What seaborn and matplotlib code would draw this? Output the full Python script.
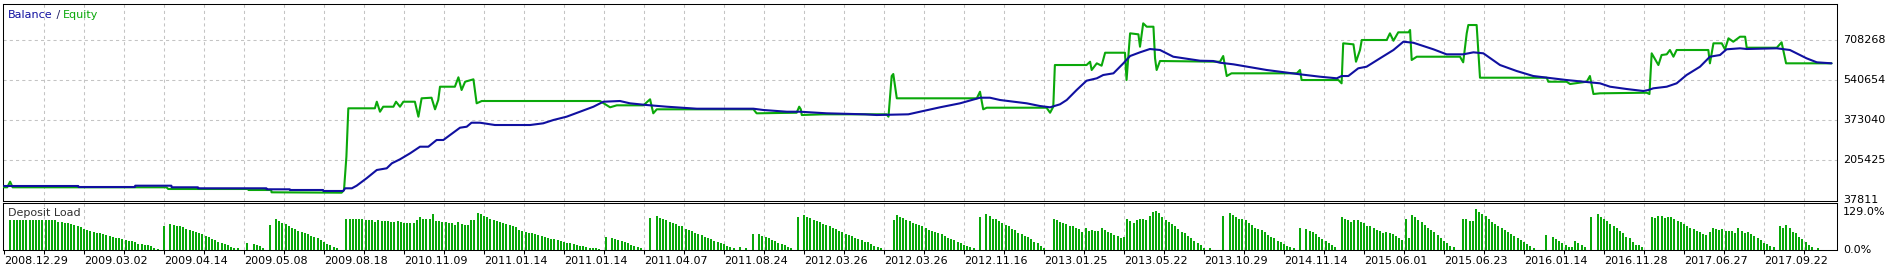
import numpy as np
import matplotlib
matplotlib.use("Agg")
import matplotlib.pyplot as plt
import seaborn as sns
from matplotlib.transforms import Bbox, TransformedBbox, blended_transform_factory

# ---------------- data (x = deal slot index) ----------------
balance_x = [0, 23.2, 23.3, 40.9, 41.0, 52.3, 52.4, 60.6, 60.7, 82.0, 82.1, 89.3, 89.4, 99.7, 99.8,
             106.0, 106.6, 108.7, 110.2, 113.3, 116.5, 119.6, 121.2, 123.75, 126.9, 130.0, 132.6,
             135.2, 137.3, 139.4, 142.5, 144.6, 146.1, 148.75, 153.4, 164.4, 168.5, 171.7, 175.8,
             180.0, 184.2, 187.3, 192.5, 195.6, 200.8, 207.1, 216.5, 234.2, 237.3, 244.6, 248.75,
             257.1, 269.1, 272.7, 282.6, 286.25, 292.5, 298.75, 305.0, 308.1, 311.25, 319.6, 323.75,
             326.9, 330.0, 332.1, 335.2, 338.3, 341.5, 343.5, 346.7, 349.8, 351.9, 355.0, 358.1,
             361.25, 365.4, 373.75, 377.9, 380.0, 384.2, 394.6, 405.0, 411.25, 416.5, 418.0, 420.1,
             423.2, 425.8, 430.0, 434.2, 437.3, 440.4, 446.7, 450.8, 456.0, 459.2, 462.3, 467.5,
             472.7, 477.9, 488.3, 498.75, 501.9, 507.1, 512.3, 513.9, 515.4, 519.6, 522.7, 525.8,
             530.0, 533.1, 536.25, 538.3, 542.5, 544.6, 554.0, 558.1, 563.3, 566.5, 571.1]
balance_y = [97700, 97700, 93500, 93500, 99000, 99000, 92300, 92300, 88100, 88100, 83900, 83900, 81000,
             81000, 76800, 76800, 88100, 88100, 99000, 130000, 164800, 171900, 192800, 209600, 234700,
             262400, 262400, 290500, 290500, 311400, 342000, 346200, 362900, 362900, 353300, 353300,
             360400, 374300, 388100, 409000, 430000, 450900, 453900, 444200, 437100, 430000, 421600,
             421600, 416200, 409000, 409000, 402300, 398100, 395200, 398100, 409000, 427500, 444200,
             467700, 467700, 458100, 444200, 432900, 427500, 440000, 458100, 500000, 538900, 549000,
             562800, 569900, 611800, 642400, 657900, 671800, 667600, 639500, 622700, 621500, 614300,
             607600, 583800, 565700, 555700, 549000, 558600, 558600, 590900, 597600, 632800, 667600,
             702300, 698100, 670500, 649500, 649500, 657900, 653700, 604700, 579600, 558600, 541800,
             528000, 513800, 504100, 495800, 500000, 507100, 513800, 528000, 562800, 597600, 639500,
             646600, 670500, 674700, 671800, 674700, 667600, 632800, 616000, 611800]

equity_x = [0, 1.0, 1.9, 2.7, 50.8, 51.3, 76.3, 76.4, 83.5, 83.6, 105.5, 106.25, 107.0, 107.6, 115.9,
            116.5, 117.5, 118.5, 121.7, 122.5, 123.75, 124.8, 128.4, 129.5, 130.5, 133.6, 134.7,
            135.7, 136.25, 140.9, 142.0, 143.0, 144.1, 146.7, 147.7, 149.3, 186.25, 189.4, 191.5,
            199.8, 201.9, 202.9, 204.0, 234.2, 235.2, 247.7, 248.5, 249.0, 249.3, 256.0, 275.8,
            276.4, 277.4, 277.9, 279.0, 304.0, 305.0, 306.0, 307.1, 325.8, 326.9, 327.9, 328.4,
            338.3, 339.4, 339.9, 341.5, 343.0, 344.1, 350.3, 350.8, 351.9, 354.5, 355.0, 356.0,
            357.1, 359.2, 359.7, 360.2, 361.25, 380.0, 381.0, 382.1, 383.6, 404.0, 405.0, 405.5,
            417.0, 418.0, 418.5, 421.7, 422.5, 423.75, 424.3, 432.1, 433.1, 434.2, 435.7, 438.9,
            439.4, 439.9, 441.5, 455.0, 456.0, 457.1, 457.6, 460.2, 461.25, 482.1, 482.6, 488.3,
            489.4, 494.6, 495.6, 496.7, 498.75, 513.3, 514.2, 514.9, 517.0, 518.0, 519.6, 520.6,
            521.7, 522.7, 532.6, 533.1, 534.2, 536.8, 537.8, 538.9, 540.4, 542.5, 544.1, 544.6,
            554.0, 555.5, 556.9, 571.1]
equity_y = [92300, 92300, 115800, 92300, 92300, 85200, 85200, 81000, 81000, 71300, 69700, 81000, 220500,
            423300, 423300, 450900, 409000, 430000, 430000, 450900, 430000, 450900, 450900, 388100,
            465200, 467700, 419100, 458100, 513800, 513800, 553200, 500000, 534700, 544800, 444200,
            453900, 453900, 427500, 435800, 435800, 461000, 402300, 419100, 419100, 402300, 404800,
            430000, 419100, 395200, 398100, 398100, 388100, 558600, 567000, 465200, 465200, 492800,
            419100, 425800, 425800, 404800, 430000, 604700, 604700, 618500, 583800, 611800, 601800,
            656200, 656200, 541800, 737500, 733300, 681400, 779400, 765200, 765200, 632800, 583800,
            621500, 618500, 642400, 558600, 569900, 569900, 583800, 541800, 541800, 528000, 695600,
            691400, 618500, 667600, 709500, 709500, 737500, 706500, 741700, 741700, 751400, 625700,
            639500, 639500, 616000, 737500, 772300, 772300, 551500, 551500, 534700, 534700, 525100,
            534700, 558600, 483200, 486100, 488600, 483200, 653700, 604700, 646600, 649500, 667600,
            639500, 667600, 667600, 611800, 695600, 695600, 670500, 716600, 702300, 723300, 723300,
            677200, 677200, 699800, 611800, 611800]

deposit_load = [
    0, 0, 95, 95, 95, 95, 95, 95, 95, 95, 95, 95, 95, 95, 95, 95, 95,
    89, 87, 85, 84, 82, 79, 75, 71, 67, 63, 60, 57, 55, 53, 50, 46, 43, 40, 39, 37, 34, 31, 28, 27,
    24, 20, 18, 17, 15, 12, 7, 3,
    0, 74, 0,
    82, 80, 77, 74, 71, 67, 64, 61, 57, 53, 49, 44, 40, 35, 30, 26, 22, 18, 15, 11, 7, 6,
    0, 0, 23, 0, 20, 17, 13, 6, 0, 79, 0, 97,
    91, 86, 82, 74, 68, 65, 60, 56, 52, 50, 44, 42, 37, 30, 24, 19, 16, 9, 6,
    0, 0,
    97, 99, 99, 97, 97, 97, 95, 95, 95, 89, 95, 92, 91, 91, 89, 89, 91, 89, 86, 86,
    86, 84, 96, 103, 99, 99, 99, 113, 91, 91, 89, 89, 84, 84, 79, 87, 82, 79, 79, 96,
    95, 116, 112, 107, 103, 99, 96, 91, 89, 84, 82, 79, 75, 72, 62, 61, 58, 54, 52, 50,
    47, 44, 40, 37, 35, 35, 31, 28, 26, 23, 21, 18, 17, 14, 13, 9, 7, 6, 6, 2,
    0, 42, 0,
    37, 35, 31, 28, 26, 21, 17, 14, 9, 6,
    0, 0, 102, 0,
    107, 101, 97, 95, 89, 86, 82, 76, 74, 66, 62, 60, 54, 51, 47, 42, 39, 35, 29, 26, 23, 19, 13, 9, 7,
    0, 9, 0, 6, 0, 51, 0, 51,
    44, 42, 39, 31, 28, 23, 20, 17, 10, 7,
    0, 104, 0, 110,
    104, 102, 95, 91, 89, 82, 79, 74, 70, 66, 60, 58, 51, 47, 44, 39, 35, 31, 26, 24, 18, 14, 10, 7,
    0, 0, 0, 95, 110,
    105, 102, 96, 91, 84, 82, 79, 74, 70, 62, 60, 58, 52, 50, 45, 39, 35, 31, 26,
    21, 17, 13, 8, 6,
    0, 105, 0, 113,
    108, 99, 97, 91, 86, 79, 74, 66, 62, 54, 50, 45, 42, 35, 26, 21, 14, 6,
    0, 0, 97,
    95, 89, 84, 82, 75, 74, 68, 66, 58, 68, 61, 62, 61, 61, 68, 62, 56, 52, 47, 44,
    37, 42, 97, 92, 86, 95, 99, 97, 95, 107, 119, 122, 116, 105, 96, 89, 81, 74, 65, 58,
    52, 44, 37, 29, 21, 16, 7, 0, 6,
    0, 0, 0, 107, 0, 116,
    110, 105, 99, 97, 95, 84, 79, 70, 66, 62, 56, 47, 42, 37, 28,
    24, 18, 13, 8, 6,
    0, 68, 0,
    65, 60, 56, 50, 42, 35, 28, 21, 16, 8,
    0, 103,
    99, 95, 89, 96, 95, 89, 84, 76, 74, 68, 62, 60, 52, 56, 52, 51, 44, 37, 31, 97,
    37, 110, 103, 95, 87, 79, 70, 62, 56, 47, 37, 29, 21, 14, 8,
    0, 0, 99,
    97, 91, 91, 129, 119, 113, 108, 97, 89, 82, 76, 68, 62, 58, 51, 44, 37, 31, 26, 18, 13, 6,
    0, 0, 0, 47, 0,
    40, 35, 28, 23, 16, 10, 10, 28, 21, 16, 10,
    0, 103, 0, 113, 103,
    97, 91, 82, 76, 68, 60, 52, 42, 37, 26, 17, 16, 10,
    0, 0, 105,
    102, 107, 107, 102, 105, 103, 99, 91, 89, 81, 75, 68, 65, 61, 56, 50, 47, 56, 70, 66,
    62, 65, 60, 60, 60, 52, 68, 60, 52, 56, 51, 44, 37, 31, 23, 18, 14, 8,
    0,
    76, 68, 79, 68, 58, 52, 42, 35, 24, 16, 10,
    0, 7, 0, 0, 0, 0, 0,
]

date_labels = ['2008.12.29', '2009.03.02', '2009.04.14', '2009.05.08', '2009.08.18',
               '2010.11.09', '2011.01.14', '2011.01.14', '2011.04.07', '2011.08.24',
               '2012.03.26', '2012.03.26', '2012.11.16', '2013.01.25', '2013.05.22',
               '2013.10.29', '2014.11.14', '2015.06.01', '2015.06.23', '2016.01.14',
               '2016.11.28', '2017.06.27', '2017.09.22']
value_ticks = [708268, 540654, 373040, 205425, 37811]
load_ticks = [129.0, 0.0]

# ---------------- style ----------------
sns.set_theme(style="white")
plt.rcParams['font.family'] = ['DejaVu Sans']
plt.rcParams['axes.linewidth'] = 0.75

BLUE = '#1010a0'
GREEN = '#0aa80a'
GRID = '#c4c4c4'
FS = 8

W, H = 1890, 267
fig = plt.figure(figsize=(W / 100, H / 100), dpi=100)
fig.patch.set_facecolor('white')

L, R = 3.3, 1837.0
ax1 = fig.add_axes([L / W, 1 - 201.0 / H, (R - L) / W, (201.0 - 4.3) / H])
ax2 = fig.add_axes([L / W, 1 - 250.0 / H, (R - L) / W, (250.0 - 203.3) / H])

slot_w = 3.2  # pixel spacing of a deal slot (only used for limits)
xlim = ((L - 4) / slot_w, (R - 4) / slot_w)
label_step = 25
grid_step = label_step / 2

for ax in (ax1, ax2):
    ax.set_facecolor('white')
    ax.set_xlim(*xlim)
    for sp in ax.spines.values():
        sp.set_visible(True)
        sp.set_color('black')
        sp.set_linewidth(0.75)
    for gx in np.arange(grid_step, xlim[1], grid_step):
        ax.axvline(gx, color=GRID, lw=0.75, ls=(0, (3, 3)), zorder=0)

# ---- top panel ----
ax1.set_ylim(34878, 859120)
for v in value_ticks[:4]:
    ax1.axhline(v, color=GRID, lw=0.75, ls=(0, (3, 3)), zorder=0)

sns.lineplot(x=equity_x, y=equity_y, ax=ax1, color=GREEN, lw=1.5, sort=False,
             estimator=None, zorder=3)
sns.lineplot(x=balance_x, y=balance_y, ax=ax1, color=BLUE, lw=1.5, sort=False,
             estimator=None, zorder=4)
ax1.set_xticks([])
ax1.set_yticks([])
ax1.set_xlabel('')
ax1.set_ylabel('')

blend1 = blended_transform_factory(ax1.transAxes, ax1.transData)
clip = TransformedBbox(Bbox([[0, 1 - 203.5 / H], [1, 1]]), fig.transFigure)
for v in value_ticks:
    t = ax1.annotate(f'{v}', xy=(1, v), xycoords=blend1, xytext=(6, 0),
                     textcoords='offset pixels', ha='left', va='center',
                     fontsize=FS, color='black', annotation_clip=False)
    t.set_clip_on(True)
    t.set_clip_box(clip)

t1 = ax1.text((8 - L) / (R - L), 0.947, 'Balance', color=BLUE, fontsize=FS,
              ha='left', va='center', transform=ax1.transAxes)
t2 = ax1.annotate(' / ', xy=(1, 0), xycoords=t1, ha='left', va='bottom',
                  color='#202060', fontsize=FS)
ax1.annotate('Equity', xy=(1, 0), xycoords=t2, ha='left', va='bottom',
             color=GREEN, fontsize=FS)

# ---- bottom panel ----
slots = np.arange(len(deposit_load))
ax2.bar(slots, deposit_load, width=0.62, color=GREEN, linewidth=0, zorder=3)
ax2.set_ylim(0, 147)
ax2.set_yticks([])
ticks = np.arange(0, xlim[1], grid_step)
labels = []
for i, _ in enumerate(ticks):
    labels.append(date_labels[i // 2] if i % 2 == 0 and i // 2 < len(date_labels) else '')
ax2.set_xticks(ticks, labels)
ax2.tick_params(axis='x', direction='out', length=3, width=0.75, color='black',
                pad=1, labelsize=FS, labelcolor='black', bottom=True)
for lab in ax2.get_xticklabels():
    lab.set_horizontalalignment('left')

blend2 = blended_transform_factory(ax2.transAxes, ax2.transData)
ax2.annotate('129.0%', xy=(1, 129), xycoords=blend2, xytext=(6, -3),
             textcoords='offset pixels', ha='left', va='center', fontsize=FS,
             color='black', annotation_clip=False)
ax2.annotate('0.0%', xy=(1, 0), xycoords=blend2, xytext=(6, 0),
             textcoords='offset pixels', ha='left', va='center', fontsize=FS,
             color='black', annotation_clip=False)
ax2.text((8 - L) / (R - L), 0.79, 'Deposit Load', color='#303030', fontsize=FS,
         ha='left', va='center', transform=ax2.transAxes)

fig.savefig('out.png', dpi=100, facecolor='white')
